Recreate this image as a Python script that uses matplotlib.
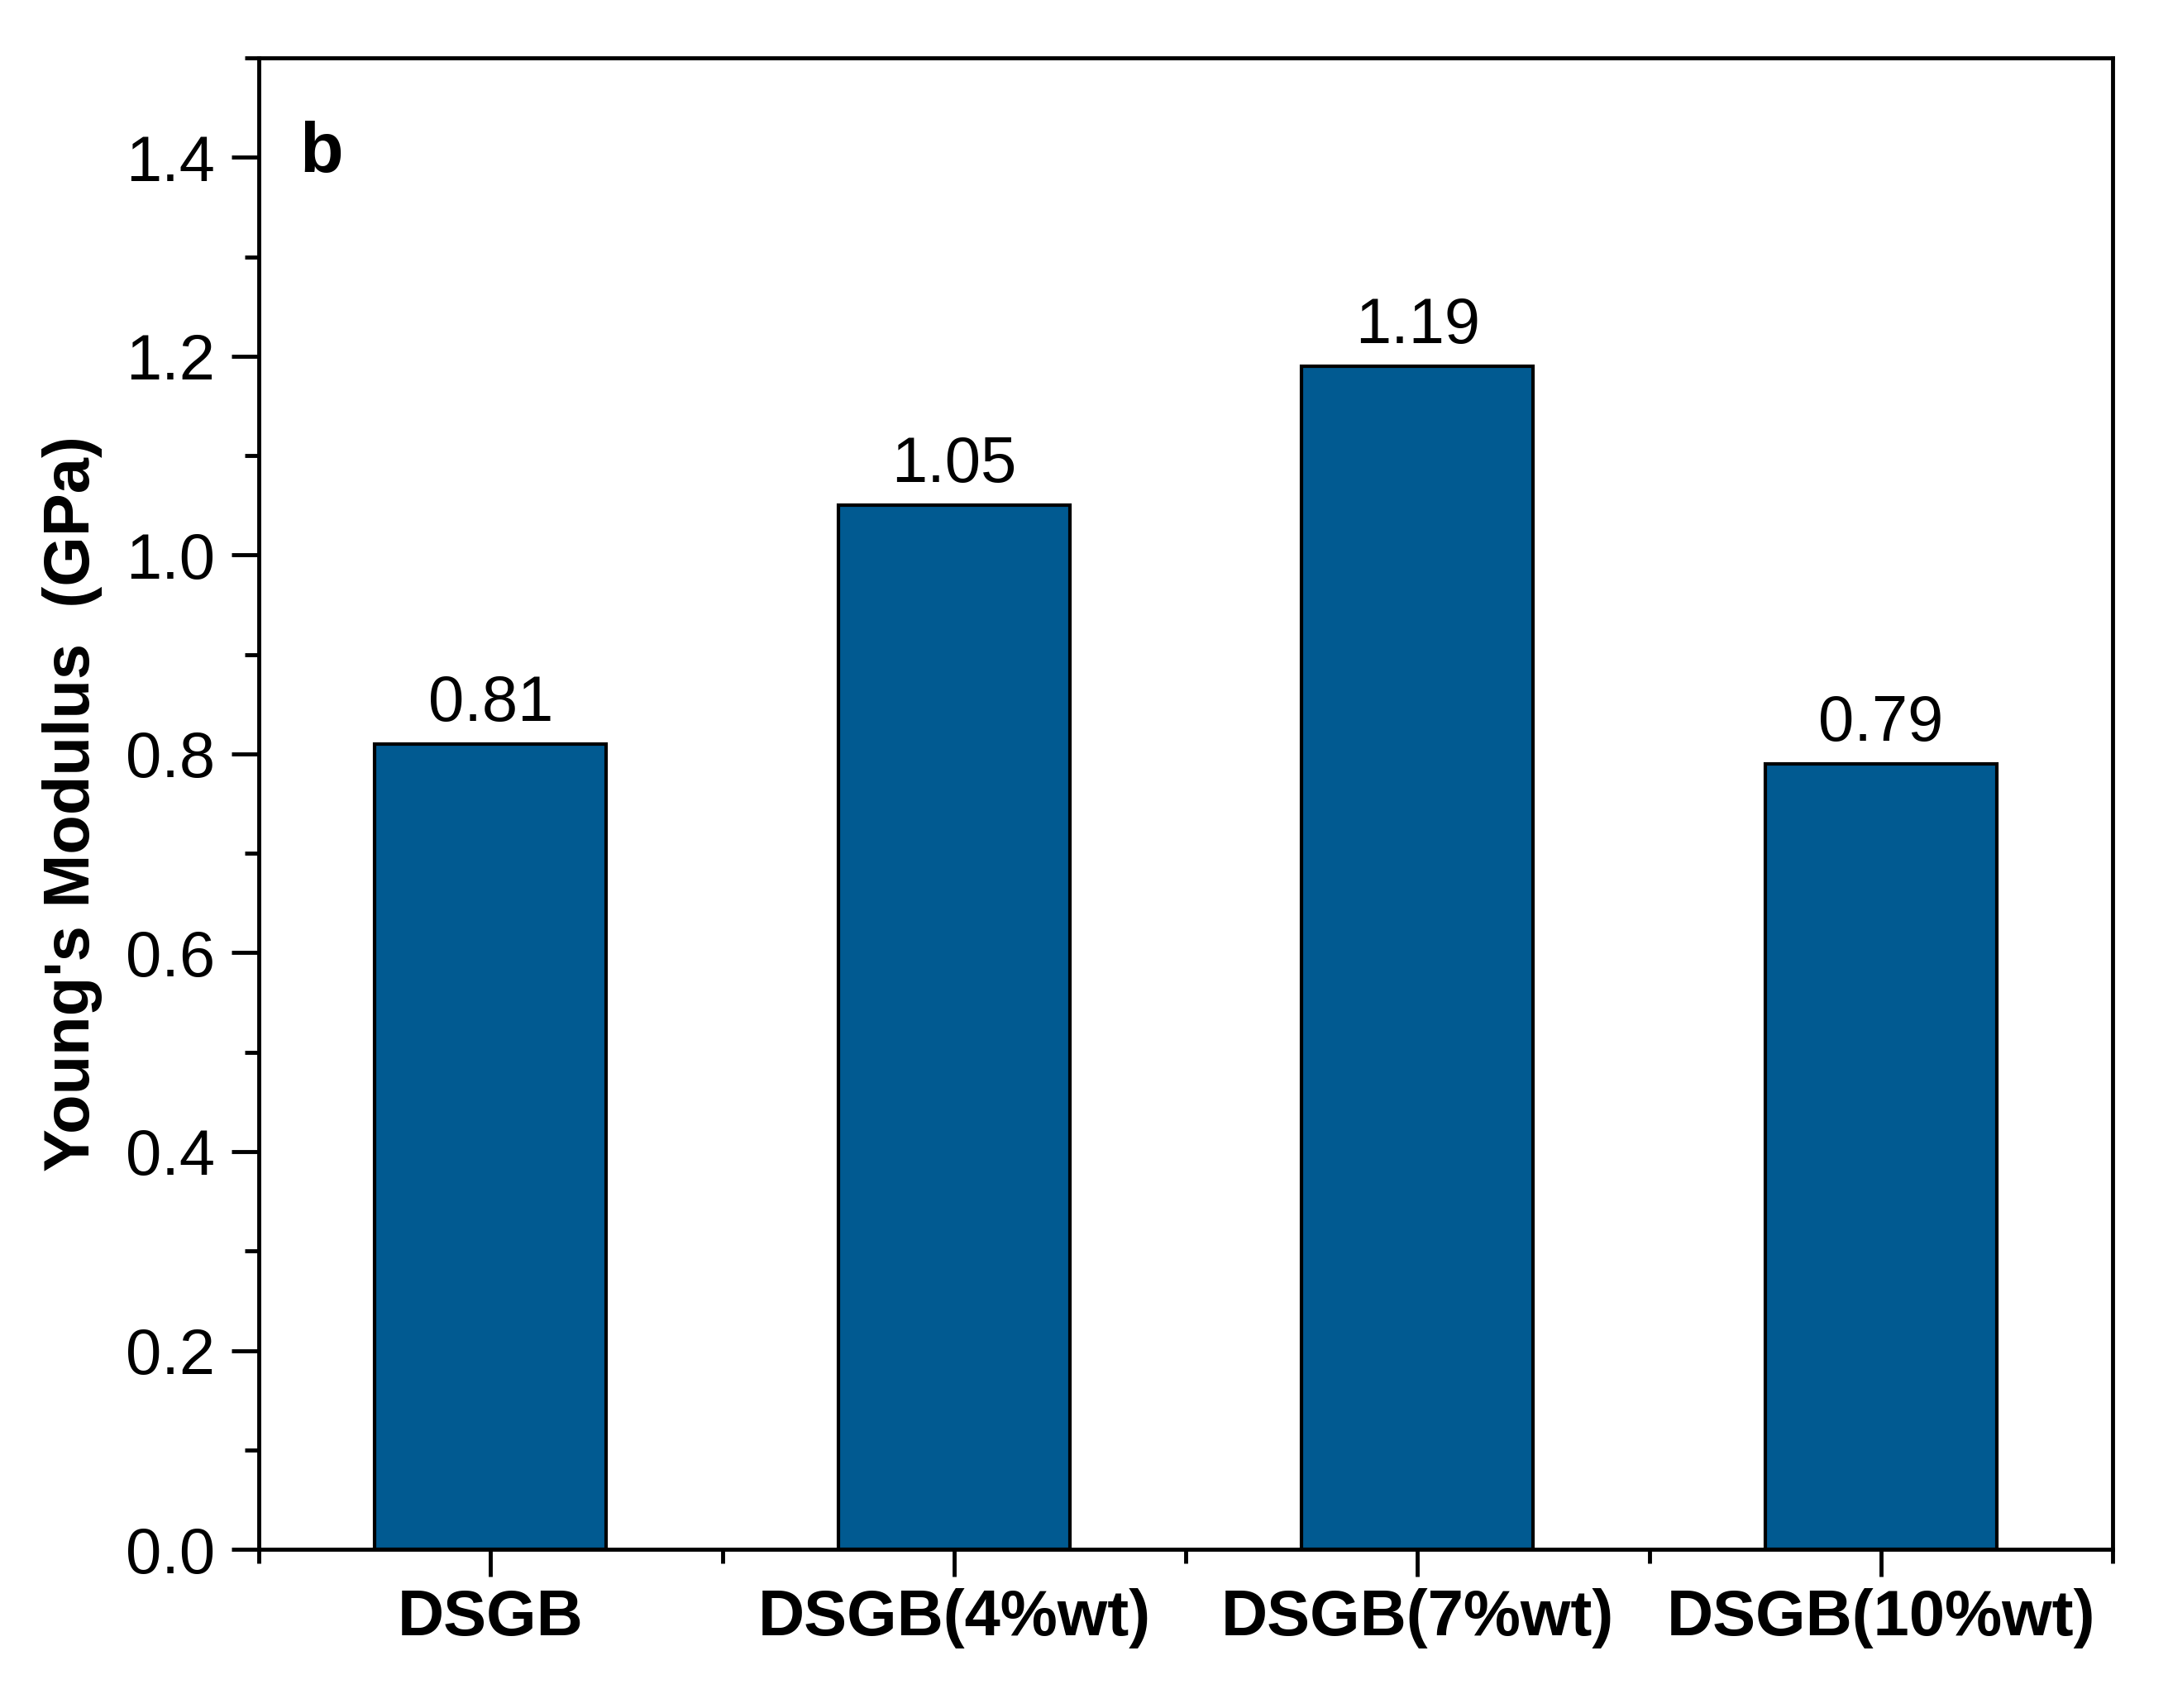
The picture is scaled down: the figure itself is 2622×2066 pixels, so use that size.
import numpy as np
import matplotlib.pyplot as plt
from matplotlib.ticker import MultipleLocator, FixedLocator
from matplotlib import font_manager

plt.rcParams['font.family'] = ['Liberation Sans', 'DejaVu Sans']

samples = ['DSGB', 'DSGB(4%wt)', 'DSGB(7%wt)', 'DSGB(10%wt)']
modulus = [0.81, 1.05, 1.19, 0.79]
value_labels = ['0.81', '1.05', '1.19', '0.79']

bar_color = '#015A91'

# condensed bold for the category labels, if the narrow face is there
names = {f.name for f in font_manager.fontManager.ttflist}
narrow = 'Liberation Sans Narrow' if 'Liberation Sans Narrow' in names else 'Liberation Sans'

fig = plt.figure(figsize=(26.22, 20.66), dpi=100)
ax = fig.add_axes([0.1194, 0.0929, 0.8551, 0.8732])

x = np.arange(len(samples))
ax.bar(x, modulus, width=0.5, color=bar_color, edgecolor='black', linewidth=3, zorder=2)

for xi, v, lab in zip(x, modulus, value_labels):
    ax.text(xi, v + 0.01, lab, ha='center', va='bottom', fontsize=56)

ax.set_xlim(-0.5, 3.5)
ax.set_ylim(0, 1.5)

ax.set_xticks(x)
ax.set_xticklabels(samples, fontsize=58 if narrow != 'Liberation Sans' else 50,
                   fontweight='bold', family=narrow)
ax.xaxis.set_minor_locator(FixedLocator(np.arange(-0.5, 3.6, 1.0)))
ax.yaxis.set_minor_locator(MultipleLocator(0.1))
ax.set_yticks(np.arange(0, 1.41, 0.2))
ax.set_yticklabels(['%.1f' % t for t in np.arange(0, 1.41, 0.2)])

ax.tick_params(axis='both', which='major', direction='out', length=24, width=3.5, labelsize=56, pad=14)
ax.tick_params(axis='x', which='major', pad=10)
ax.tick_params(axis='both', which='minor', direction='out', length=12, width=3.5)
ax.tick_params(top=False, right=False, which='both')

for sp in ax.spines.values():
    sp.set_linewidth(3.5)

ax.set_ylabel("Young's Modulus  (GPa)", fontsize=56, fontweight='bold', labelpad=20)

ax.text(0.022, 0.958, 'b', transform=ax.transAxes, fontsize=62, fontweight='bold', ha='left', va='top')

fig.savefig('out.png', dpi=100)
